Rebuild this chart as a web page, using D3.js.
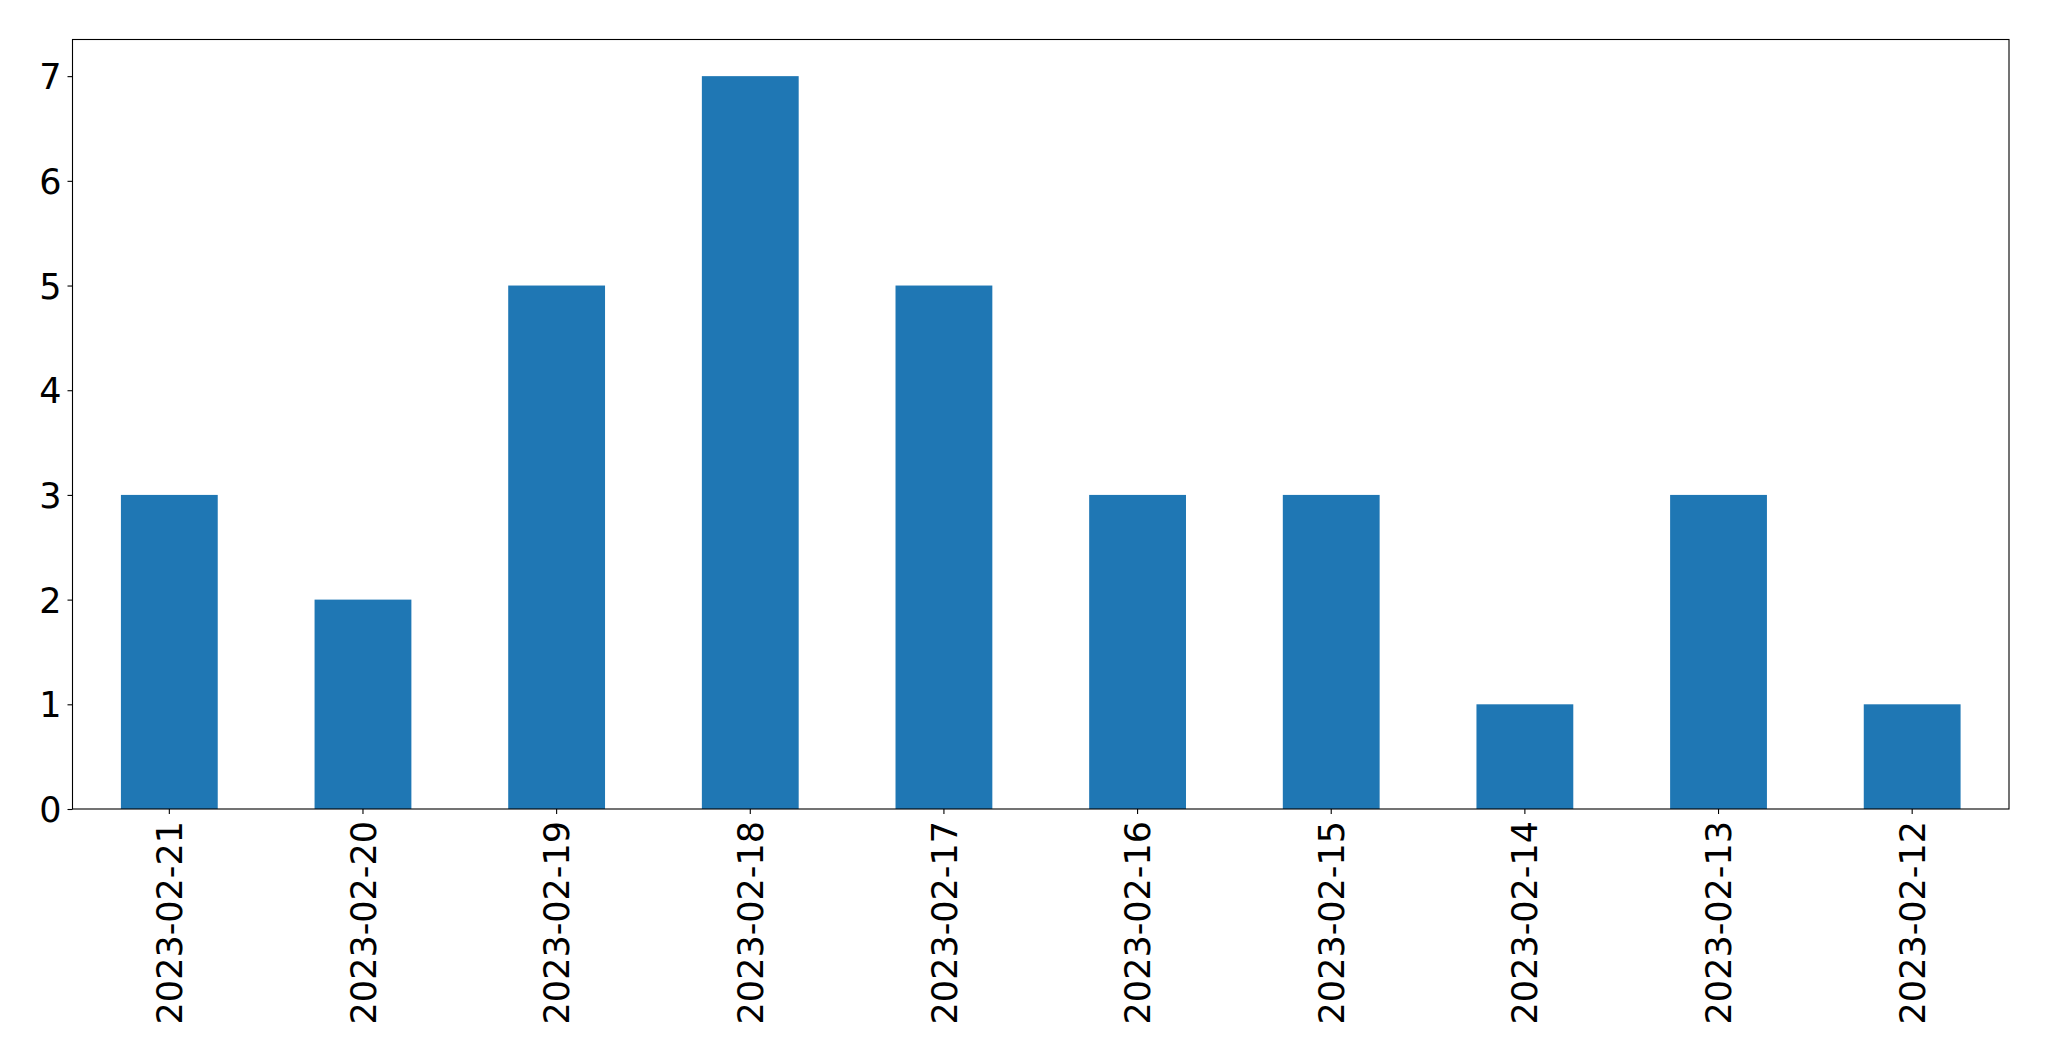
<!DOCTYPE html>
<html>
<head>
<meta charset="utf-8">
<script src="https://cdn.jsdelivr.net/npm/d3@7"></script>
<style>
  html, body { margin: 0; padding: 0; background: #fff; }
  svg { display: block; }
  text { font-family: "DejaVu Sans", sans-serif; fill: #000; }
</style>
</head>
<body>
<svg id="chart" width="2049" height="1061"></svg>
<script>
const categories = ["2023-02-21","2023-02-20","2023-02-19","2023-02-18","2023-02-17","2023-02-16","2023-02-15","2023-02-14","2023-02-13","2023-02-12"];
const values = [3, 2, 5, 7, 5, 3, 3, 1, 3, 1];
const yTicks = [0, 1, 2, 3, 4, 5, 6, 7];

const W = 2049, H = 1061;
const margin = {left: 72.5, right: 2049 - 2009, top: 39.5, bottom: 1061 - 809};
const iw = W - margin.left - margin.right;
const ih = H - margin.top - margin.bottom;

const svg = d3.select("#chart");
const g = svg.append("g").attr("transform", `translate(${margin.left},${margin.top})`);

const x = d3.scaleBand().domain(categories).range([0, iw]).paddingInner(0.5).paddingOuter(0.25);
const y = d3.scaleLinear().domain([0, 7.35]).range([ih, 0]);

g.selectAll("rect.bar").data(values).enter().append("rect")
  .attr("class", "bar")
  .attr("x", (d, i) => x(categories[i]))
  .attr("width", x.bandwidth())
  .attr("y", d => y(d))
  .attr("height", d => y(0) - y(d))
  .attr("fill", "#1f77b4");

const fontSize = 35;

const yAxis = g.append("g").call(d3.axisLeft(y).tickValues(yTicks).tickFormat(d3.format("d")).tickSize(5).tickPadding(6));
yAxis.select(".domain").remove();
yAxis.selectAll("line").attr("stroke", "#000").attr("stroke-width", 1.1);
yAxis.selectAll("text").attr("font-size", fontSize).attr("font-family", "DejaVu Sans").attr("dy", "0.36em");

const xAxis = g.append("g").attr("transform", `translate(0,${ih})`)
  .call(d3.axisBottom(x).tickSize(5).tickPadding(6));
xAxis.select(".domain").remove();
xAxis.selectAll("line").attr("stroke", "#000").attr("stroke-width", 1.1);
xAxis.selectAll("text")
  .attr("font-size", fontSize).attr("font-family", "DejaVu Sans")
  .attr("text-anchor", "end")
  .attr("transform", "rotate(-90)")
  .attr("x", -12).attr("y", 0).attr("dy", "0.36em");

g.append("rect").attr("x", 0).attr("y", 0).attr("width", iw).attr("height", ih)
  .attr("fill", "none").attr("stroke", "#000").attr("stroke-width", 1.1);
</script>
</body>
</html>
